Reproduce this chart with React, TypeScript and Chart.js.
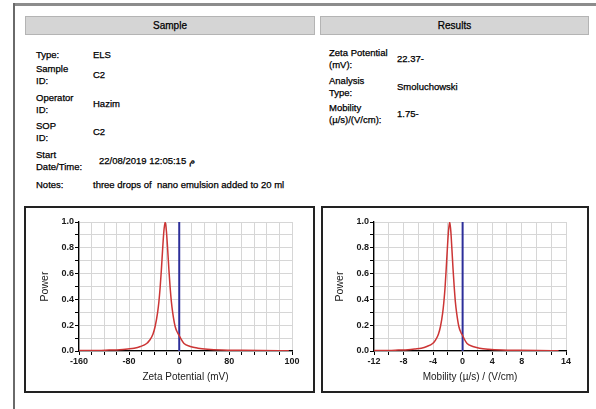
import React, { useEffect, useRef } from 'react';
import { Chart, registerables } from 'chart.js';

Chart.register(...registerables);

// ---- data ----
const zetaX = [-160, -130, -112, -95, -82, -72, -62, -52, -47, -42, -38.5, -34.5, -32.5, -30.5, -28.5, -26.5, -24.5, -22.4, -20.5, -18.5, -16.5, -14.5, -12.5, -10.5, -6.5, -2.5, 0, 2.6, 7.6, 17.6, 30, 45, 68, 100, 130, 175];
const zetaPower = [0.003, 0.004, 0.007, 0.01, 0.016, 0.022, 0.035, 0.058, 0.085, 0.13, 0.19, 0.3, 0.38, 0.49, 0.63, 0.79, 0.93, 1.0, 0.93, 0.79, 0.63, 0.49, 0.38, 0.3, 0.19, 0.14, 0.12, 0.095, 0.058, 0.035, 0.022, 0.014, 0.008, 0.005, 0.003, 0.002];

const mobX = [-12, -10, -8.7, -7.4, -6.4, -5.6, -4.85, -4.06, -3.67, -3.28, -3.0, -2.69, -2.54, -2.38, -2.23, -2.07, -1.91, -1.75, -1.6, -1.45, -1.29, -1.13, -0.98, -0.82, -0.51, -0.2, 0, 0.2, 0.6, 1.38, 2.3, 3.5, 5.3, 7.8, 10.2, 13];
const mobPower = [0.003, 0.004, 0.007, 0.01, 0.016, 0.022, 0.035, 0.058, 0.085, 0.13, 0.19, 0.3, 0.38, 0.49, 0.63, 0.79, 0.93, 1.0, 0.93, 0.79, 0.63, 0.49, 0.38, 0.3, 0.19, 0.14, 0.12, 0.095, 0.058, 0.035, 0.022, 0.014, 0.008, 0.005, 0.003, 0.002];

const zeroLineX = [0, 0];
const zeroLineY = [0, 1];

const zetaTickValues = [-160, -80, 0, 80, 180];
const zetaTickLabels = ['-160', '-80', '0', '80', '100'];
const mobTickValues = [-12, -8, -4, 0, 4, 8, 14];
const mobTickLabels = ['-12', '-8', '-4', '0', '4', '8', '14'];
const powerTickValues = [0, 0.2, 0.4, 0.6, 0.8, 1.0];
const powerTickLabels = ['0.0', '0.2', '0.4', '0.6', '0.8', '1.0'];

const sampleLabels = [['Type:'], ['Sample', 'ID:'], ['Operator', 'ID:'], ['SOP', 'ID:'], ['Start', 'Date/Time:'], ['Notes:']];
const sampleValues = ['ELS', 'C2', 'Hazim', 'C2', '22/08/2019 12:05:15 م', 'three drops of  nano emulsion added to 20 ml'];
const resultLabels = [['Zeta Potential', '(mV):'], ['Analysis', 'Type:'], ['Mobility', '(µ/s)/(V/cm):']];
const resultValues = ['22.37-', 'Smoluchowski', '1.75-'];

const FONT = '"Liberation Sans", Arial, sans-serif';

function lookup(values: number[], labels: string[], v: number): string {
  const i = values.findIndex((t) => Math.abs(t - v) < 1e-6);
  return i >= 0 ? labels[i] : '';
}

type PlotProps = {
  xs: number[];
  ys: number[];
  xMin: number;
  xMax: number;
  xStep: number;
  tickValues: number[];
  tickLabels: string[];
  xTitle: string;
  left: number;
  top: number;
  width: number;
  height: number;
  yAxisWidth: number;
  rightPad: number;
  yTitlePad: number;
};

function Plot(p: PlotProps) {
  const ref = useRef<HTMLCanvasElement | null>(null);
  useEffect(() => {
    if (!ref.current) return;
    const tickFont = { family: FONT, size: 9, weight: 'bold' as const };
    const chart = new Chart(ref.current, {
      type: 'line',
      data: {
        datasets: [
          {
            data: p.xs.map((x, i) => ({ x, y: p.ys[i] })),
            borderColor: '#cc3535',
            borderWidth: 1.5,
            pointRadius: 0,
            cubicInterpolationMode: 'monotone',
            fill: false,
          },
          {
            data: zeroLineX.map((x, i) => ({ x, y: zeroLineY[i] })),
            borderColor: '#2d2f9a',
            borderWidth: 2,
            pointRadius: 0,
            fill: false,
          },
        ],
      },
      options: {
        responsive: false,
        animation: false,
        devicePixelRatio: 1,
        layout: { padding: { top: 13, right: p.rightPad, left: 0, bottom: 0 } },
        plugins: { legend: { display: false }, tooltip: { enabled: false } },
        scales: {
          x: {
            type: 'linear',
            min: p.xMin,
            max: p.xMax,
            afterFit: (s: any) => { s.height = 38; },
            ticks: {
              stepSize: p.xStep,
              autoSkip: false,
              maxRotation: 0,
              padding: 1,
              color: '#1a1a1a',
              font: tickFont,
              callback: (v: any) => lookup(p.tickValues, p.tickLabels, Number(v)),
            },
            grid: { color: '#d6d6d6', lineWidth: 1, tickLength: 4, tickColor: '#000', tickWidth: 1 },
            border: { color: '#000', width: 1.3 },
            title: { display: true, text: p.xTitle, color: '#1a1a1a', font: { family: FONT, size: 10 }, padding: { top: 0, bottom: 6 } },
          },
          y: {
            type: 'linear',
            min: 0,
            max: 1,
            afterFit: (s: any) => { s.width = p.yAxisWidth; },
            ticks: {
              stepSize: 0.1,
              autoSkip: false,
              padding: 1,
              color: '#1a1a1a',
              font: tickFont,
              callback: (v: any) => lookup(powerTickValues, powerTickLabels, Number(v)),
            },
            grid: { color: '#d6d6d6', lineWidth: 1, tickLength: 4, tickColor: '#000', tickWidth: 1 },
            border: { color: '#000', width: 1.3 },
            title: { display: true, text: 'Power', color: '#1a1a1a', font: { family: FONT, size: 10.5 }, padding: { top: p.yTitlePad, bottom: 0 } },
          },
        },
      } as any,
    });
    return () => chart.destroy();
  }, []);
  return (
    <canvas
      ref={ref}
      width={p.width}
      height={p.height}
      style={{ position: 'absolute', left: p.left, top: p.top, width: p.width, height: p.height }}
    />
  );
}

function Txt(props: { x: number; y: number; lines: string[]; size?: number }) {
  return (
    <div
      style={{
        position: 'absolute',
        left: props.x,
        top: props.y,
        fontSize: props.size ?? 9.5,
        lineHeight: '12px',
        whiteSpace: 'pre',
        color: '#000',
        WebkitTextStroke: '0.25px #000',
      }}
    >
      {props.lines.map((l, i) => (
        <div key={i}>{l}</div>
      ))}
    </div>
  );
}

const sampleRowTops = [49, 63, 92, 120, 149, 179];
const resultRowTops = [47, 75, 102];

const headerStyle: React.CSSProperties = {
  position: 'absolute',
  top: 16,
  height: 17,
  background: '#d5d5d5',
  border: '1px solid #b4b4b4',
  textAlign: 'center',
  fontSize: 10,
  lineHeight: '17px',
  color: '#000',
  WebkitTextStroke: '0.25px #000',
};

export default function App() {
  return (
    <div
      style={{
        position: 'absolute',
        left: 0,
        top: 0,
        width: 596,
        height: 409,
        background: '#fff',
        overflow: 'hidden',
        fontFamily: FONT,
      }}
    >
      {/* outer page lines */}
      <div style={{ position: 'absolute', left: 13, top: 3, width: 583, height: 3, background: '#8c8c8c' }} />
      <div style={{ position: 'absolute', left: 13, top: 3, width: 2, height: 406, background: '#6a6a6a' }} />

      {/* headers */}
      <div style={{ ...headerStyle, left: 25, width: 288 }}>Sample</div>
      <div style={{ ...headerStyle, left: 320, width: 267 }}>Results</div>

      {/* sample block */}
      {sampleLabels.map((l, i) => (
        <Txt key={'sl' + i} x={36} y={sampleRowTops[i]} lines={l} />
      ))}
      {sampleValues.map((v, i) => (
        <Txt
          key={'sv' + i}
          x={i === 4 ? 99 : 93}
          y={sampleRowTops[i] + (sampleLabels[i].length > 1 ? 6 : 0)}
          lines={[v]}
        />
      ))}

      {/* results block */}
      {resultLabels.map((l, i) => (
        <Txt key={'rl' + i} x={329} y={resultRowTops[i]} lines={l} />
      ))}
      {resultValues.map((v, i) => (
        <Txt key={'rv' + i} x={397} y={resultRowTops[i] + 6} lines={[v]} />
      ))}

      {/* chart frames */}
      <div style={{ position: 'absolute', left: 24, top: 206, width: 287, height: 183, border: '2px solid #222' }} />
      <div style={{ position: 'absolute', left: 321, top: 206, width: 264, height: 183, border: '2px solid #222' }} />

      <Plot
        xs={zetaX}
        ys={zetaPower}
        xMin={-160}
        xMax={180}
        xStep={20}
        tickValues={zetaTickValues}
        tickLabels={zetaTickLabels}
        xTitle="Zeta Potential (mV)"
        left={27}
        top={209}
        width={283}
        height={180}
        yAxisWidth={52}
        rightPad={18}
        yTitlePad={12}
      />
      <Plot
        xs={mobX}
        ys={mobPower}
        xMin={-12}
        xMax={14}
        xStep={2}
        tickValues={mobTickValues}
        tickLabels={mobTickLabels}
        xTitle="Mobility (µ/s) / (V/cm)"
        left={324}
        top={209}
        width={262}
        height={180}
        yAxisWidth={50}
        rightPad={20}
        yTitlePad={10}
      />
    </div>
  );
}
